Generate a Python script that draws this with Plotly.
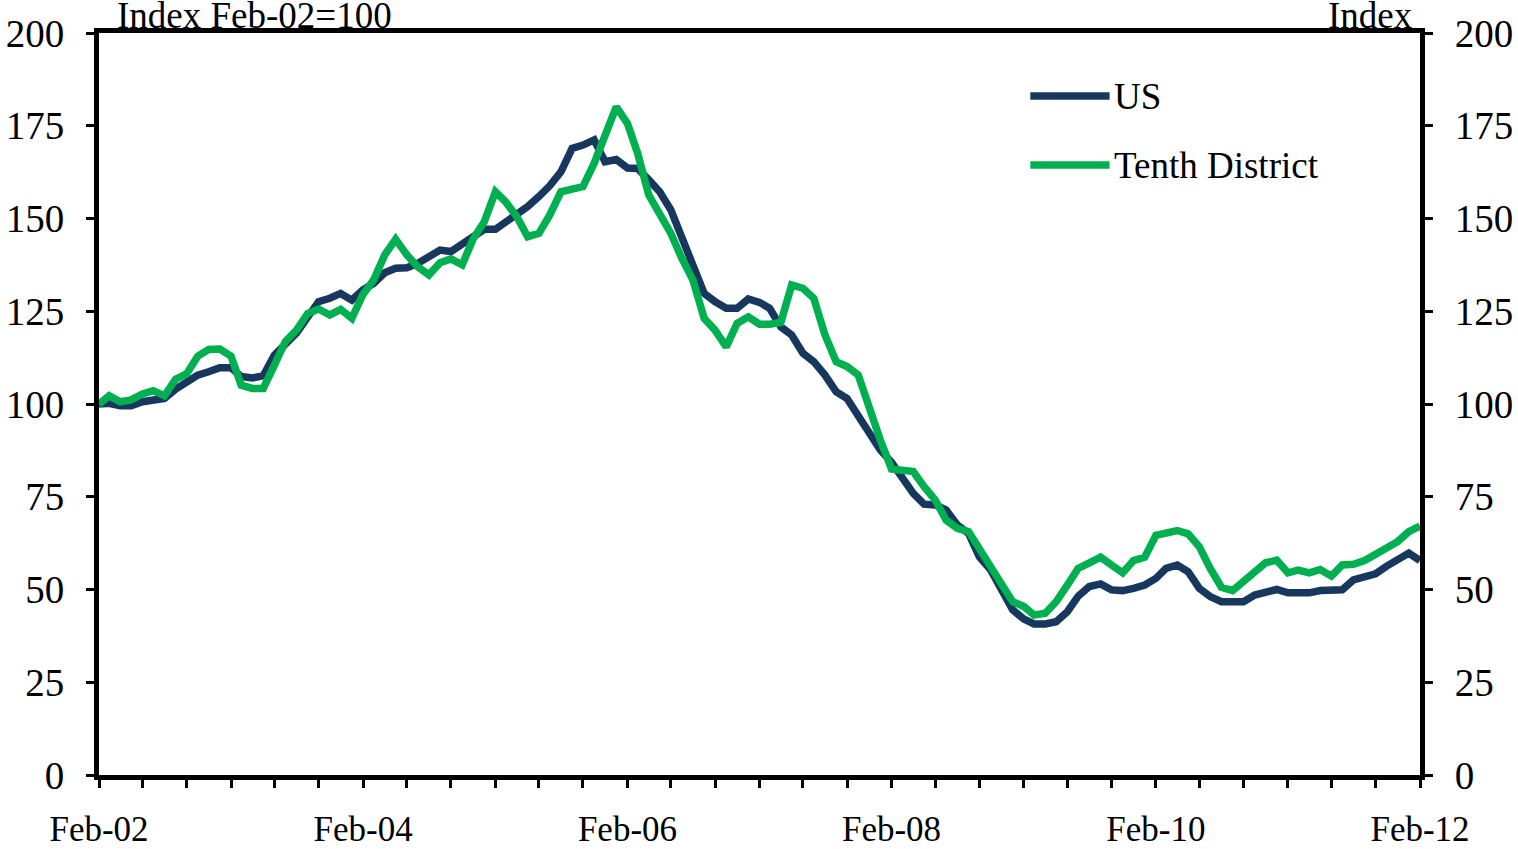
####################################################################################################################
# plot.py - US vs Tenth District index, Feb-02 = 100
####################################################################################################################
import pandas as pd
import plotly.graph_objects as go

# monthly dates Feb-02 .. Feb-12
months = pd.date_range('2002-02-01', '2012-02-01', freq='MS')

us = [100.0, 100.2, 99.5, 99.5, 100.6, 101.1, 101.5, 104.0, 106.0, 107.8, 108.7, 109.8,
      109.8, 107.4, 107.0, 107.6, 113.2, 115.9, 119.1, 123.4, 127.6, 128.5, 129.8, 128.0,
      130.8, 132.5, 135.4, 136.6, 136.7, 137.9, 139.7, 141.5, 141.1, 143.3, 145.1, 147.1,
      147.1, 149.1, 150.9, 153.2, 155.9, 158.8, 162.6, 168.9, 169.8, 171.2, 165.3, 165.9,
      163.6, 163.5, 160.4, 157.2, 152.3, 145.1, 137.5, 129.8, 127.6, 125.8, 125.8, 128.3,
      127.4, 125.8, 120.8, 118.6, 113.7, 111.4, 107.8, 103.3, 101.5, 96.6, 92.1, 87.6,
      84.3, 80.0, 75.9, 73.0, 72.8, 71.4, 67.4, 65.1, 58.8, 55.3, 49.9, 44.5,
      42.0, 40.7, 40.7, 41.3, 44.0, 48.2, 50.8, 51.5, 49.9, 49.7, 50.3, 51.2,
      53.0, 55.7, 56.6, 54.8, 50.3, 48.1, 46.7, 46.7, 46.7, 48.5, 49.4, 50.0,
      49.1, 49.1, 49.1, 49.7, 49.9, 49.9, 52.6, 53.3, 54.2, 56.3, 58.1, 59.8,
      57.8]

tenth = [100.0, 102.2, 100.6, 101.1, 102.7, 103.6, 102.2, 106.7, 108.1, 112.9, 114.7, 114.8,
         112.9, 105.1, 104.2, 104.2, 110.5, 116.8, 119.9, 124.4, 125.6, 124.0, 125.5, 123.1,
         129.6, 133.4, 140.2, 144.4, 140.2, 137.0, 134.8, 138.1, 139.1, 137.5, 144.4, 149.1,
         157.2, 154.5, 150.5, 145.1, 146.0, 150.9, 157.2, 157.9, 158.6, 164.9, 172.5, 180.1,
         175.6, 167.6, 156.3, 150.9, 146.0, 139.3, 133.4, 123.1, 119.9, 115.4, 121.7, 123.5,
         121.5, 121.5, 122.0, 132.1, 131.2, 128.5, 118.6, 111.4, 110.1, 107.8, 98.8, 90.3,
         82.5, 82.4, 81.8, 77.7, 74.1, 68.7, 66.5, 65.6, 61.1, 56.1, 51.2, 46.7,
         45.4, 43.1, 43.6, 46.7, 51.2, 55.7, 57.2, 58.7, 56.6, 54.5, 57.8, 58.7,
         64.6, 65.1, 65.9, 65.0, 61.5, 55.7, 50.6, 49.7, 52.1, 54.8, 57.2, 57.9,
         54.5, 55.2, 54.5, 55.4, 53.6, 56.6, 56.8, 57.8, 59.3, 61.1, 62.9, 65.6,
         67.1]

tick_dates = ['2002-02-01', '2004-02-01', '2006-02-01', '2008-02-01', '2010-02-01', '2012-02-01']
tick_text = ['Feb-02', 'Feb-04', 'Feb-06', 'Feb-08', 'Feb-10', 'Feb-12']
y_ticks = [0, 25, 50, 75, 100, 125, 150, 175, 200]

US_COLOR = '#17375E'
TD_COLOR = '#00B050'
SERIF = 'Liberation Serif, Times New Roman, serif'
FONT = dict(family=SERIF, size=37, color='black')

####################################################################################################################
# FIGURE
fig = go.Figure()
fig.add_trace(go.Scatter(x=months, y=us, mode='lines', name='US',
                         line=dict(color=US_COLOR, width=7.5)))
# tenth district on the right axis (same scale) so it draws on top and the right axis shows
fig.add_trace(go.Scatter(x=months, y=tenth, mode='lines', name='Tenth District', yaxis='y2',
                         line=dict(color=TD_COLOR, width=7.5)))

yax = dict(range=[0, 200], tickvals=y_ticks,
           ticks='outside', ticklen=8, tickwidth=3, tickcolor='black',
           showline=True, linewidth=5, linecolor='black',
           showgrid=False, zeroline=False, ticklabelstandoff=14, automargin=False,
           tickfont=dict(family=SERIF, size=39, color='black'))

fig.update_layout(
    width=1518, height=849,
    margin=dict(l=99, r=98, t=33, b=74),
    paper_bgcolor='white', plot_bgcolor='white',
    font=FONT,
    showlegend=False,
    xaxis=dict(type='date', range=['2002-02-01', '2012-02-01'],
               tickvals=tick_dates, ticktext=tick_text,
               ticks='outside', ticklen=8, tickwidth=3, tickcolor='black',
               showline=True, linewidth=5, linecolor='black', mirror=True,
               showgrid=False, zeroline=False, ticklabelstandoff=11, automargin=False,
               tickfont=dict(family=SERIF, size=35, color='black'),
               minor=dict(ticks='outside', ticklen=8, tickwidth=3, tickcolor='black',
                          dtick='M4', tick0='2002-02-01', showgrid=False)),
    yaxis=yax,
    yaxis2=dict(yax, overlaying='y', side='right'),
)

# axis unit labels
fig.add_annotation(text='Index Feb-02=100', xref='paper', yref='paper', x=0.012, y=1.0,
                   xanchor='left', yanchor='bottom', showarrow=False, yshift=-5, font=FONT)
fig.add_annotation(text='Index', xref='paper', yref='paper', x=0.996, y=1.0,
                   xanchor='right', yanchor='bottom', showarrow=False, yshift=-5, font=FONT)

# legend drawn by hand
for name, color, ly in [('US', US_COLOR, 0.915), ('Tenth District', TD_COLOR, 0.822)]:
    fig.add_shape(type='line', xref='paper', yref='paper', x0=0.705, x1=0.765, y0=ly, y1=ly,
                  line=dict(color=color, width=7.5))
    fig.add_annotation(text=name, xref='paper', yref='paper', x=0.767, y=ly,
                       xanchor='left', yanchor='middle', showarrow=False, font=FONT)

# body margin off so the 1518x849 figure fills the window exactly
fig.write_html('out.html', config={'displayModeBar': False},
               post_script="document.body.style.margin='0';")
